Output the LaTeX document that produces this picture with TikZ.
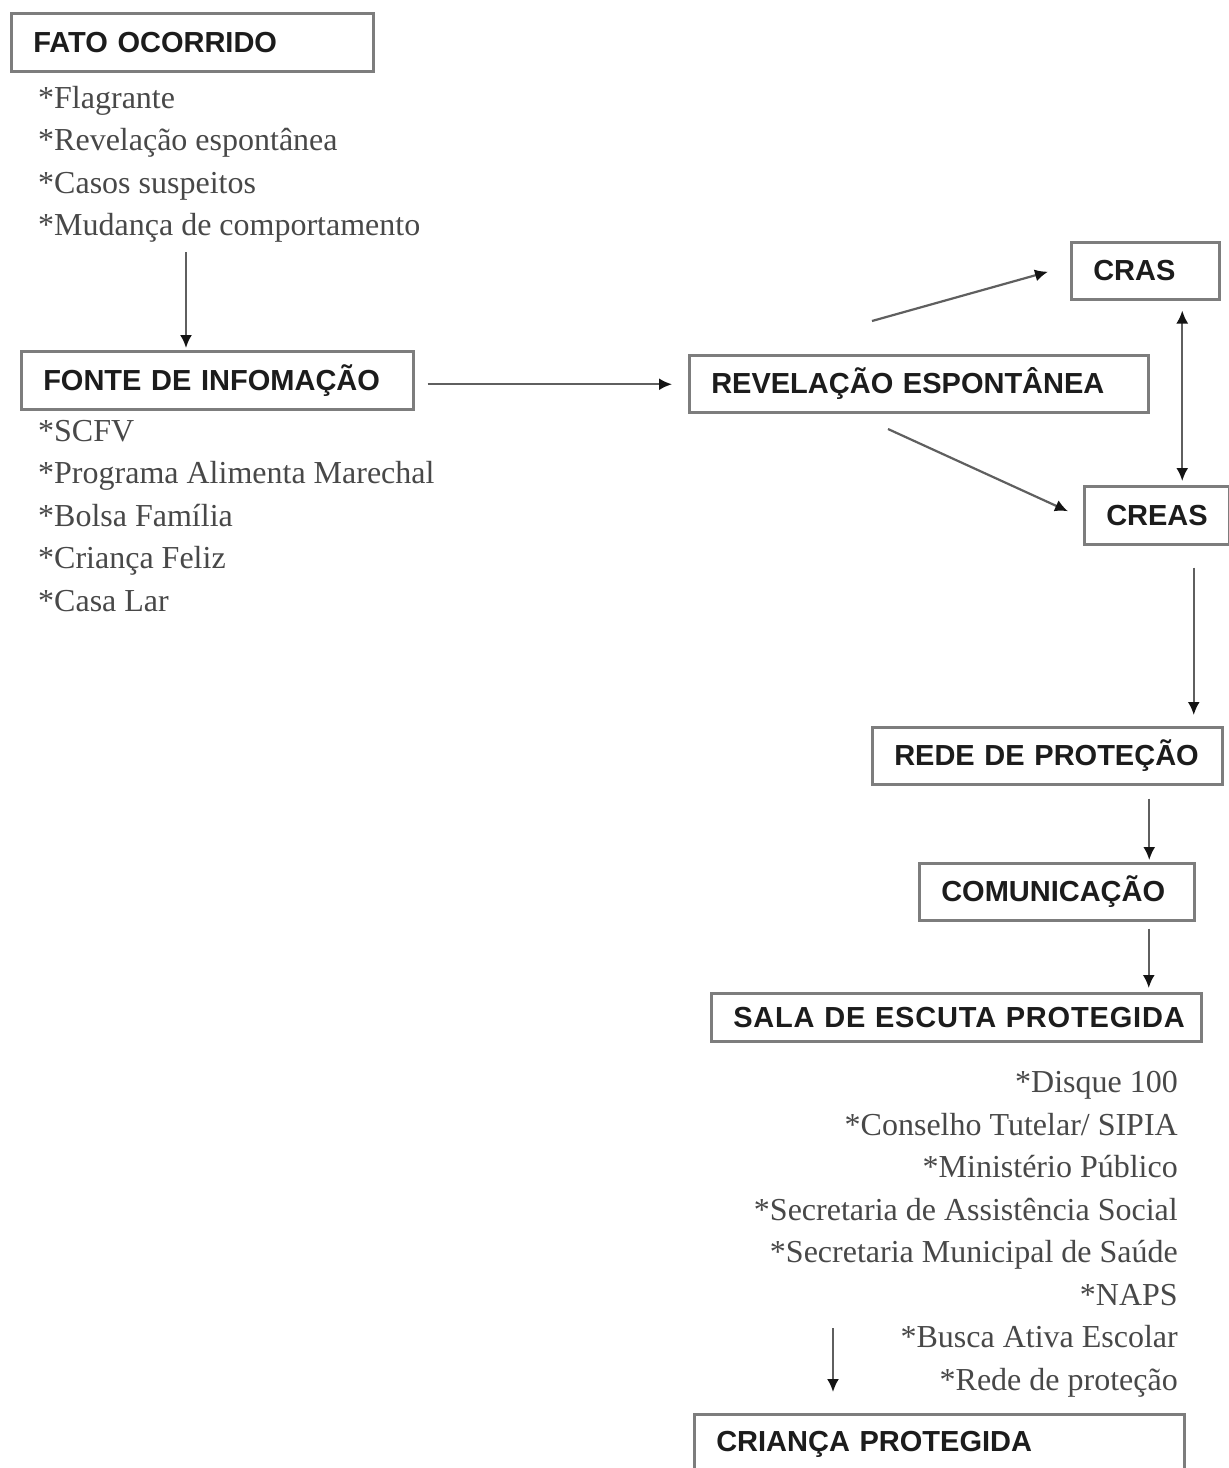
\documentclass[tikz,border=0pt]{standalone}
\usepackage{fontspec}
\setmainfont{Liberation Serif}
\setsansfont{Liberation Sans}
\usepackage{xcolor}
\definecolor{fxframe}{RGB}{125,125,125}
\definecolor{fxline}{RGB}{95,95,95}
\definecolor{fxtip}{RGB}{20,20,20}
\definecolor{fxtext}{RGB}{28,28,28}
\definecolor{fxlist}{RGB}{72,72,72}
\usetikzlibrary{arrows.meta, positioning, calc}

\begin{document}
\begin{tikzpicture}[x=1pt, y=-1pt,
  box/.style={draw=fxframe, line width=2.5pt, anchor=north west, inner xsep=22pt,
              inner ysep=0pt, align=left, text=fxtext,
              font=\sffamily\bfseries\fontsize{29}{34}\selectfont},
  itemlist/.style={inner sep=0pt, text=fxlist, font=\fontsize{32}{42.5}\selectfont},
  flow/.style={draw=fxline, line width=2.2pt, -{Latex[length=13pt, width=12pt, color=fxtip]}}]

\clip (0,0) rectangle (1229,1468);
\fill[white] (0,0) rectangle (1229,1468);

% --- Left column ---
\node[box, text width=318pt, minimum height=58pt] (fato) at (10,12) {FATO OCORRIDO};
\node[itemlist, anchor=base west, align=left] (fatolist) at (38,235.5) {%
  *Flagrante\\
  *Revelação espontânea\\
  *Casos suspeitos\\
  *Mudança de comportamento};

\node[box, text width=348pt, minimum height=58pt] (fonte) at (20,350) {FONTE DE INFOMAÇÃO};
\node[itemlist, anchor=base west, align=left] (fontelist) at (38,611) {%
  *SCFV\\
  *Programa Alimenta Marechal\\
  *Bolsa Família\\
  *Criança Feliz\\
  *Casa Lar};

\coordinate (fatoend) at (186,252);
\draw[flow, shorten >=2pt] (fatoend) -- (fatoend |- fonte.north);

% --- Revelation and services ---
\node[box, text width=415pt, minimum height=57pt] (revel) at (688,354) {REVELAÇÃO ESPONTÂNEA};
\node[box, text width=104pt, minimum height=57pt] (cras) at (1070,241) {CRAS};
\node[box, text width=101pt, minimum height=58pt] (creas) at (1083,485) {CREAS};

\draw[flow, shorten <=13pt, shorten >=16pt] ([yshift=-4pt]fonte.east) -- ([yshift=-4pt]fonte.east -| revel.west);

\coordinate (revup) at (872,321);
\coordinate (revdown) at (888,429);
\draw[flow] (revup) -- ([xshift=-22pt, yshift=-1pt]cras.west);
\draw[flow] (revdown) -- ([xshift=-15pt, yshift=4pt]creas.west);
\draw[flow, {Latex[length=13pt, width=12pt, color=fxtip]}-{Latex[length=13pt, width=12pt, color=fxtip]},
      shorten <=10pt, shorten >=4pt]
      ([xshift=37pt]cras.south) -- ([xshift=37pt]cras.south |- creas.north);

% --- Right column ---
\node[box, text width=306pt, minimum height=57pt] (rede) at (871,726) {REDE DE PROTEÇÃO};
\node[box, text width=231pt, minimum height=57pt] (comun) at (918,862) {COMUNICAÇÃO};
\node[box, text width=446pt, minimum height=48pt] (sala) at (710,992)
      {\mbox{\addfontfeature{LetterSpace=2.8}SALA DE ESCUTA PROTEGIDA}};
\node[itemlist, anchor=base east, align=right] (salalist) at (1178,1390) {%
  *Disque 100\\
  *Conselho Tutelar/ SIPIA\\
  *Ministério Público\\
  *Secretaria de Assistência Social\\
  *Secretaria Municipal de Saúde\\
  *NAPS\\
  *Busca Ativa Escolar\\
  *Rede de proteção};
\node[box, text width=446pt, minimum height=60pt] (crianca) at (693,1413) {CRIANÇA PROTEGIDA};

\draw[flow, shorten <=22pt, shorten >=11pt] ([xshift=37pt]creas.south) -- ([xshift=37pt]creas.south |- rede.north);
\draw[flow, shorten <=13pt, shorten >=2pt] ([xshift=102pt]rede.south) -- ([xshift=102pt]rede.south |- comun.north);
\draw[flow, shorten <=7pt, shorten >=4pt] ([xshift=92pt]comun.south) -- ([xshift=92pt]comun.south |- sala.north);

\coordinate (salaend) at (833,1328);
\draw[flow, shorten >=21pt] (salaend) -- (salaend |- crianca.north);

\end{tikzpicture}
\end{document}
